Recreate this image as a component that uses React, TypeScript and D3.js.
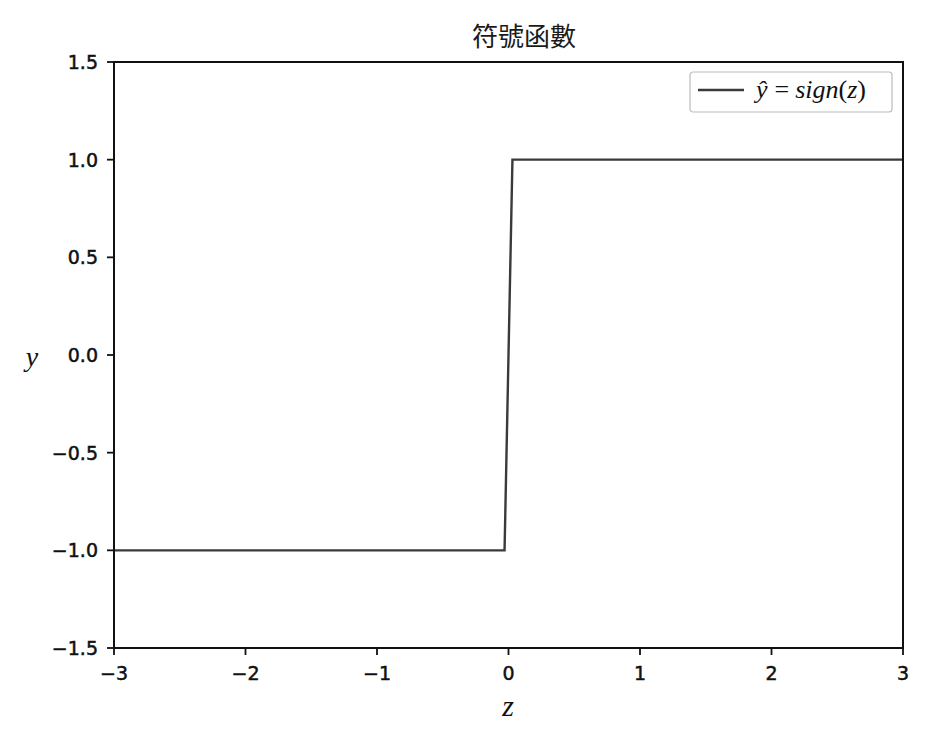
import * as d3 from 'd3';

// sign(z) sampled like a coarse linspace, the jump sits between the two middle points
const zValues = [-3, -0.03, 0.03, 3];
const yValues = [-1, -1, 1, 1];
const xTicks = [-3, -2, -1, 0, 1, 2, 3];
const yTicks = [-1.5, -1.0, -0.5, 0.0, 0.5, 1.0, 1.5];
const title = '符號函數';

export default function App() {
  const width = 951;
  const height = 735;
  const margin = { top: 62, right: 48, bottom: 87, left: 114 };
  const innerW = width - margin.left - margin.right;
  const innerH = height - margin.top - margin.bottom;

  const x = d3.scaleLinear().domain([-3, 3]).range([0, innerW]);
  const y = d3.scaleLinear().domain([-1.5, 1.5]).range([innerH, 0]);

  const points = zValues.map((z, i) => [z, yValues[i]] as [number, number]);
  const line = d3.line<[number, number]>()
    .x(d => x(d[0]))
    .y(d => y(d[1]));

  const fmt = (v: number) => (v < 0 ? '\u2212' : '') + Math.abs(v).toFixed(1);
  const fmtX = (v: number) => (v < 0 ? '\u2212' : '') + Math.abs(v);
  const tickFont = 'DejaVu Sans, sans-serif';

  return (
    <svg width={width} height={height} style={{ position: 'absolute', left: 0, top: 0, background: '#fff' }}>
      <text x={524} y={46} textAnchor="middle" fontSize={26} fontFamily="Noto Sans CJK TC, sans-serif" fill="#1a1a1a">
        {title}
      </text>
      <g transform={`translate(${margin.left},${margin.top})`}>
        <path d={line(points) ?? ''} fill="none" stroke="#3a3a3a" strokeWidth={2.4} />
        <rect x={0} y={0} width={innerW} height={innerH} fill="none" stroke="#111" strokeWidth={2} />

        {xTicks.map(t => (
          <g key={t} transform={`translate(${x(t)},${innerH})`}>
            <line y1={0} y2={7} stroke="#111" strokeWidth={1.8} />
            <text y={32} textAnchor="middle" fontSize={19} fontFamily={tickFont} fill="#111" stroke="#111" strokeWidth={0.5}>{fmtX(t)}</text>
          </g>
        ))}
        {yTicks.map(t => (
          <g key={t} transform={`translate(0,${y(t)})`}>
            <line x1={-7} x2={0} stroke="#111" strokeWidth={1.8} />
            <text x={-16} dy="0.36em" textAnchor="end" fontSize={19} fontFamily={tickFont} fill="#111" stroke="#111" strokeWidth={0.5}>{fmt(t)}</text>
          </g>
        ))}

        {/* legend */}
        <g transform={`translate(${innerW - 213},${10})`}>
          <rect x={0} y={0} width={202} height={40} rx={3} fill="#fff" stroke="#bbb" strokeWidth={1.2} />
          <line x1={8} x2={54} y1={18} y2={18} stroke="#3a3a3a" strokeWidth={2.4} />
          <text x={66} y={26} fontSize={26} fontFamily="Liberation Serif, serif" fontStyle="italic" fill="#111">
            <tspan>ŷ</tspan>
            <tspan dx={7} fontStyle="normal">=</tspan>
            <tspan dx={6}>sign</tspan>
            <tspan fontStyle="normal">(</tspan>
            <tspan>z</tspan>
            <tspan fontStyle="normal">)</tspan>
          </text>
        </g>
      </g>

      <text x={32} y={366} textAnchor="middle" fontSize={28} fontFamily="Liberation Serif, serif" fontStyle="italic" fill="#111">y</text>
      <text x={508} y={716} textAnchor="middle" fontSize={30} fontFamily="Liberation Serif, serif" fontStyle="italic" fill="#111">z</text>
    </svg>
  );
}
